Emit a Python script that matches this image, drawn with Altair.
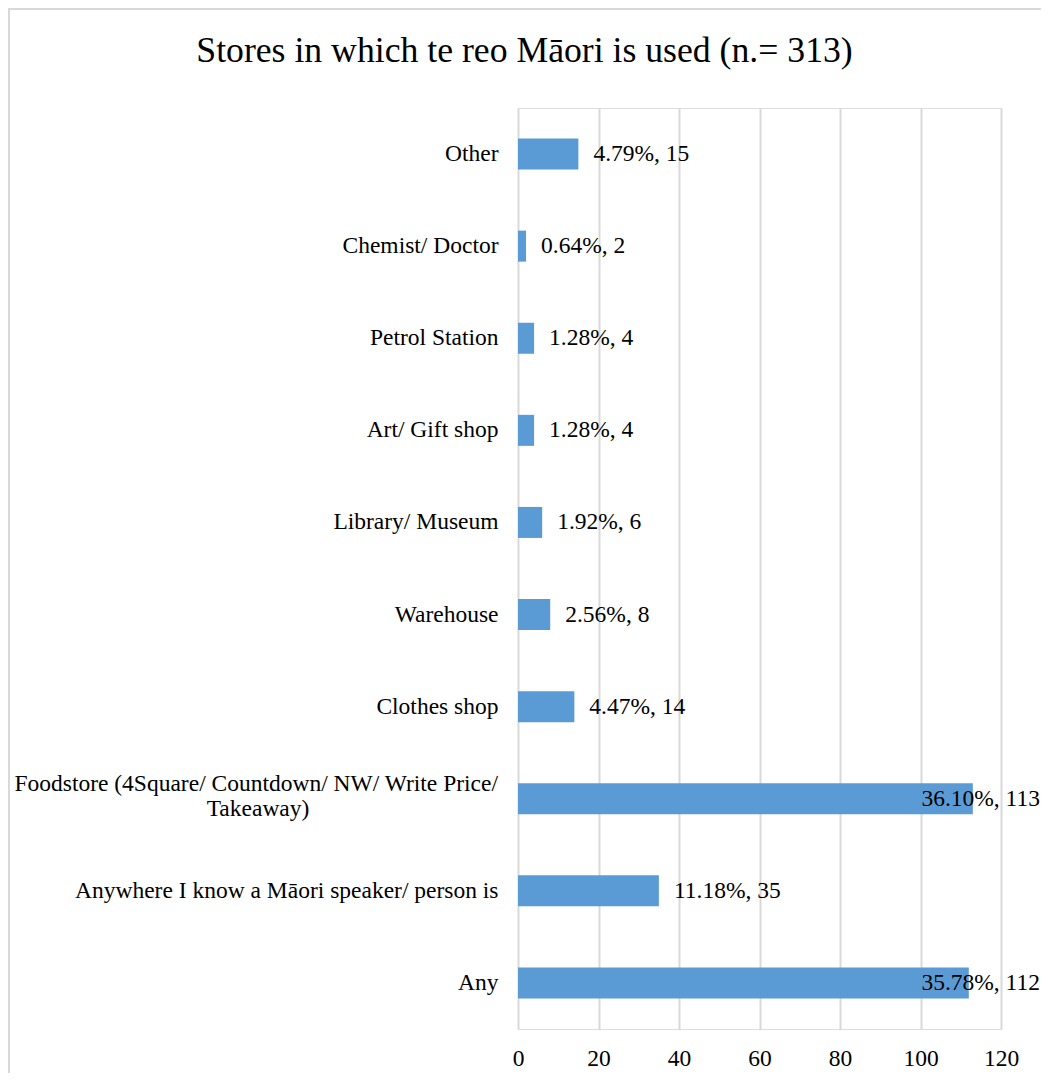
import altair as alt
import pandas as pd

# ---- data ----
categories = [
    "Other",
    "Chemist/ Doctor",
    "Petrol Station",
    "Art/ Gift shop",
    "Library/ Museum",
    "Warehouse",
    "Clothes shop",
    "Foodstore (4Square/ Countdown/ NW/ Write Price/ Takeaway)",
    "Anywhere I know a Māori speaker/ person is",
    "Any",
]
counts = [15, 2, 4, 4, 6, 8, 14, 113, 35, 112]
percents = ["4.79%", "0.64%", "1.28%", "1.28%", "1.92%", "2.56%", "4.47%", "36.10%", "11.18%", "35.78%"]
x_ticks = [0, 20, 40, 60, 80, 100, 120]
title_text = "Stores in which te reo Māori is used (n.= 313)"
food_line1 = "Foodstore (4Square/ Countdown/ NW/ Write Price/"
food_line2 = "Takeaway)"

df = pd.DataFrame({"store": categories, "count": counts, "pct": percents})
df["label"] = df["pct"] + ", " + df["count"].astype(str)

W, H = 483, 921
FONT = "Liberation Serif"
FS = 23.5

food = categories[7]
label_expr = f"datum.value == '{food}' ? '' : datum.value"

y_sort = alt.Y("store:N", sort=categories)

y_enc = alt.Y(
    "store:N",
    sort=categories,
    title=None,
    axis=alt.Axis(
        domain=False, ticks=False, grid=False, labelFont=FONT, labelFontSize=FS,
        labelColor="#000000", labelPadding=20, labelLimit=700, labelExpr=label_expr,
    ),
)
x_enc = alt.X(
    "count:Q",
    title=None,
    scale=alt.Scale(domain=[0, 120], nice=False),
    axis=alt.Axis(
        values=x_ticks, domain=False, ticks=False, grid=True, gridColor="#D9D9D9",
        gridWidth=2, labelFont=FONT, labelFontSize=FS, labelColor="#000000",
        labelPadding=17, labelFlush=False,
    ),
)

base = alt.Chart(df)

bars = base.mark_bar(size=31, color="#5B9BD5").encode(x=x_enc, y=y_enc)

labels_out = base.transform_filter("datum.count < 100").mark_text(
    align="left", baseline="middle", dx=15, font=FONT, fontSize=FS, color="#000000"
).encode(x="count:Q", y=y_sort, text="label:N")

labels_in = base.transform_filter("datum.count >= 100").mark_text(
    align="right", baseline="middle", font=FONT, fontSize=FS, color="#000000"
).encode(x=alt.value(W + 39), y=y_sort, text="label:N")

# two-line Foodstore category label: first line right-aligned, second centred under it
food_first = base.transform_filter(alt.datum.store == food).mark_text(
    align="right", baseline="middle", dy=-15, font=FONT, fontSize=FS, color="#000000"
).encode(x=alt.value(-20), y=y_sort, text=alt.value(food_line1))

food_second = base.transform_filter(alt.datum.store == food).mark_text(
    align="center", baseline="middle", dy=10, font=FONT, fontSize=FS, color="#000000"
).encode(x=alt.value(-260), y=y_sort, text=alt.value(food_line2))

title_mark = alt.Chart(pd.DataFrame({"t": [title_text]})).mark_text(
    align="center", baseline="alphabetic", font=FONT, fontSize=35.7, color="#000000"
).encode(x=alt.value(6.5), y=alt.value(-46), text="t:N")

frame = alt.Chart(pd.DataFrame({"a": [0]})).mark_rect(
    fillOpacity=0, stroke="#D9D9D9", strokeWidth=2
).encode(
    x=alt.value(-509), x2=alt.value(W + 100), y=alt.value(-99), y2=alt.value(H + 100)
)

chart = (
    alt.layer(frame, bars, labels_out, labels_in, food_first, food_second, title_mark)
    .properties(
        width=W,
        height=H,
        autosize=alt.AutoSizeParams(type="none"),
        padding={"left": 510, "top": 100, "right": 40, "bottom": 44},
    )
    .configure_view(stroke=None)
    .configure(font=FONT)
)

chart.save("out.html", embed_options={"renderer": "svg", "actions": False})
